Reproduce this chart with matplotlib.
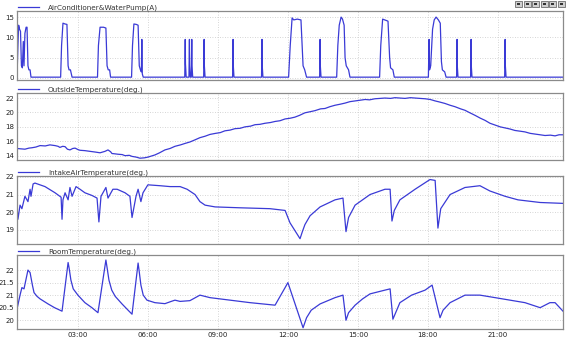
import matplotlib
matplotlib.use("Agg")
import matplotlib.pyplot as plt
from matplotlib.patches import Rectangle

# ---- AC + water pump current (A) ----
ac_t = [0.39, 0.43, 0.46, 0.50, 0.54, 0.58, 0.62, 0.66, 0.69, 0.73, 0.78, 0.82, 0.86, 0.90, 0.95, 0.99,
        2.26, 2.30, 2.36, 2.45, 2.53, 2.58, 2.62, 2.68, 2.75,
        3.84, 3.88, 3.95, 4.10, 4.20, 4.25, 4.30, 4.36, 4.40,
        5.30, 5.34, 5.40, 5.50, 5.58, 5.63, 5.68, 5.72, 5.74, 5.76, 5.80,
        7.58, 7.60, 7.61, 7.64, 7.76, 7.78, 7.79, 7.82, 7.86, 7.88, 7.89, 7.92,
        8.39, 8.41, 8.42, 8.45, 9.63, 9.65, 9.66, 9.69, 10.87, 10.89, 10.90, 10.93,
        12.03, 12.10, 12.18, 12.25, 12.40, 12.56, 12.61, 12.65, 12.72, 12.80,
        13.36, 13.38, 13.39, 13.42,
        14.09, 14.14, 14.20, 14.28, 14.34, 14.41, 14.45, 14.50, 14.60, 14.66,
        15.93, 15.98, 16.06, 16.15, 16.29, 16.36, 16.40, 16.50, 16.56,
        18.02, 18.05, 18.07, 18.12, 18.20, 18.27, 18.35, 18.45, 18.53, 18.58, 18.62, 18.72, 18.78,
        19.23, 19.25, 19.26, 19.29, 19.83, 19.85, 19.86, 19.89, 21.29, 21.31, 21.32, 21.35,
        23.79]
ac_v = [0.0, 8.0, 13.0, 12.0, 11.5, 3.0, 2.5, 9.0, 3.0, 11.0, 12.5, 12.5, 3.0, 2.0, 2.0, 0.2,
        0.2, 8.0, 13.5, 13.3, 13.2, 3.0, 2.0, 2.0, 0.2,
        0.2, 8.0, 12.5, 12.5, 12.3, 3.0, 2.0, 2.0, 0.2,
        0.2, 8.0, 13.3, 13.2, 13.0, 3.0, 2.0, 1.5, 9.5, 1.0, 0.2,
        0.2, 9.5, 3.5, 0.2, 0.2, 9.5, 3.0, 0.2, 0.2, 9.5, 3.0, 0.2,
        0.2, 9.5, 3.0, 0.2, 0.2, 9.5, 3.0, 0.2, 0.2, 9.5, 3.0, 0.2,
        0.2, 8.0, 14.8, 14.3, 14.5, 14.3, 8.0, 3.0, 2.0, 0.2,
        0.2, 9.5, 3.0, 0.2,
        0.2, 8.0, 13.0, 15.0, 14.5, 13.0, 5.0, 3.0, 2.0, 0.2,
        0.2, 8.0, 14.5, 14.3, 14.0, 5.0, 2.5, 2.0, 0.2,
        0.2, 9.5, 2.0, 3.0, 12.0, 14.3, 15.0, 14.3, 13.5, 4.0, 2.0, 1.5, 0.2,
        0.2, 9.5, 3.0, 0.2, 0.2, 9.5, 3.0, 0.2, 0.2, 9.5, 3.0, 0.2,
        0.2]

# ---- outside temperature (deg.) ----
out_t = [0.39, 0.55, 0.73, 0.90, 1.03, 1.20, 1.38, 1.60, 1.80, 2.02, 2.15, 2.23, 2.35, 2.45, 2.55, 2.66,
         2.78, 2.88, 3.00, 3.09, 3.30, 3.52, 3.75, 3.95, 4.16, 4.29, 4.40, 4.46, 4.60,
         4.72, 4.90, 5.02, 5.20, 5.32, 5.50, 5.66, 5.85, 6.00, 6.15, 6.30, 6.50, 6.73, 6.95, 7.16,
         7.40, 7.59, 7.80, 8.02, 8.23, 8.45, 8.66, 8.90, 9.10, 9.30, 9.52, 9.73, 9.95, 10.16,
         10.40, 10.59, 10.80, 11.02, 11.25, 11.45, 11.66, 11.88, 12.10, 12.30, 12.50, 12.73, 12.95,
         13.16, 13.40, 13.59, 13.80, 14.02, 14.25, 14.45, 14.66, 14.88, 15.10, 15.31, 15.50, 15.73,
         15.95, 16.16, 16.40, 16.59, 16.80, 17.02, 17.25, 17.45, 17.66, 17.88, 18.10, 18.31, 18.50,
         18.73, 18.95, 19.16, 19.40, 19.59, 19.80, 20.02, 20.25, 20.45, 20.66, 20.88, 21.10, 21.31,
         21.52, 21.73, 21.95, 22.16, 22.38, 22.59, 22.81, 23.02, 23.25, 23.45, 23.62, 23.79]
out_v = [15.0, 14.95, 14.9, 15.05, 15.1, 15.2, 15.4, 15.35, 15.5, 15.4, 15.3, 15.15, 15.3, 15.25, 14.9, 14.8,
         15.0, 15.05, 14.85, 14.75, 14.7, 14.6, 14.5, 14.4, 14.6, 14.8, 14.55, 14.3, 14.25,
         14.2, 14.15, 14.0, 14.05, 13.9, 13.8, 13.65, 13.7, 13.8, 13.95, 14.1, 14.4, 14.8, 15.0, 15.3,
         15.5, 15.7, 15.9, 16.2, 16.5, 16.7, 16.95, 17.1, 17.2, 17.45, 17.55, 17.75, 17.8, 18.0,
         18.1, 18.3, 18.35, 18.5, 18.6, 18.75, 18.85, 19.1, 19.2, 19.35, 19.6, 19.95, 20.1,
         20.25, 20.5, 20.55, 20.8, 21.0, 21.15, 21.3, 21.5, 21.6, 21.7, 21.8, 21.75, 21.9,
         21.95, 22.0, 21.95, 22.05, 22.0, 21.95, 22.05, 22.0, 21.95, 21.9, 21.8, 21.6, 21.45,
         21.25, 21.0, 20.8, 20.5, 20.3, 19.95, 19.6, 19.2, 18.9, 18.5, 18.25, 18.0, 17.85,
         17.7, 17.5, 17.4, 17.3, 17.1, 17.0, 16.9, 16.8, 16.85, 16.75, 16.9, 16.9]

# ---- intake air temperature (deg.) ----
intake_t = [0.39, 0.43, 0.52, 0.60, 0.73, 0.86, 0.95, 0.99, 1.08, 1.16, 1.59, 2.02, 2.28, 2.32, 2.36,
            2.45, 2.58, 2.66, 2.75, 2.92, 3.09, 3.30, 3.60, 3.82, 3.90, 3.99, 4.20, 4.29, 4.50, 4.68,
            5.02, 5.23, 5.32, 5.49, 5.58, 5.70, 5.79, 6.00, 6.52, 6.95, 7.38, 7.68, 8.02, 8.23, 8.45,
            8.88, 9.95, 11.23, 11.88, 12.09, 12.52, 12.62, 12.73, 12.95, 13.38, 14.02, 14.36, 14.49,
            14.60, 14.88, 15.52, 16.16, 16.38, 16.46, 16.56, 16.80, 17.45, 18.09, 18.31, 18.43,
            18.55, 18.95, 19.59, 20.23, 20.66, 21.31, 21.86, 22.81, 23.79]
intake_v = [20.4, 19.6, 20.4, 20.2, 20.9, 20.6, 21.3, 20.9, 21.6, 21.65, 21.45, 21.1, 20.85, 19.6, 20.7,
            21.1, 20.7, 21.4, 20.9, 21.45, 21.3, 21.1, 20.95, 20.8, 19.45, 20.9, 21.4, 20.8, 21.3, 21.3,
            21.1, 20.9, 19.7, 20.9, 21.3, 20.6, 21.1, 21.55, 21.5, 21.45, 21.45, 21.3, 21.0, 20.6, 20.4,
            20.3, 20.25, 20.2, 20.1, 19.4, 18.5, 18.9, 19.3, 19.8, 20.3, 20.7, 20.8, 18.9,
            19.7, 20.4, 21.0, 21.3, 21.3, 19.5, 20.1, 20.7, 21.3, 21.85, 21.8, 19.1,
            20.2, 21.0, 21.4, 21.5, 21.2, 20.9, 20.7, 20.55, 20.5]

# ---- room temperature (deg.) ----
room_t = [0.39, 0.52, 0.60, 0.69, 0.86, 0.95, 1.05, 1.12, 1.25, 1.38, 1.72, 2.00, 2.23, 2.32,
          2.58, 2.62, 2.70, 2.80, 3.00, 3.30, 3.60, 3.86,
          4.20, 4.25, 4.33, 4.45, 4.60, 4.89, 5.15, 5.32,
          5.58, 5.62, 5.70, 5.80, 5.96, 6.30, 6.73, 7.00, 7.16, 7.38,
          7.80, 8.23, 8.66, 9.52, 10.38, 11.45, 11.88, 12.00, 12.65, 12.80, 13.00, 13.38, 14.02, 14.36,
          14.49, 14.60, 14.88, 15.20, 15.52, 16.16, 16.38, 16.50, 16.80, 17.30, 17.88, 18.18, 18.52,
          18.65, 18.95, 19.59, 20.23, 20.88, 21.52, 22.16, 22.81, 23.23, 23.45, 23.79]
room_v = [20.44, 21.0, 21.3, 21.25, 22.0, 21.9, 21.4, 21.1, 20.95, 20.85, 20.65, 20.5, 20.4, 20.36,
          22.3, 22.1, 21.6, 21.25, 21.0, 20.7, 20.5, 20.3,
          22.4, 22.1, 21.6, 21.2, 20.95, 20.65, 20.4, 20.24,
          22.28, 22.0, 21.4, 21.0, 20.8, 20.7, 20.66, 20.75, 20.8, 20.75,
          20.78, 21.0, 20.9, 20.8, 20.7, 20.6, 21.3, 21.5, 19.7, 20.1, 20.4, 20.65, 20.9, 21.0,
          20.0, 20.3, 20.6, 20.85, 21.05, 21.2, 21.25, 20.04, 20.7, 21.0, 21.2, 21.4, 20.1,
          20.4, 20.7, 21.0, 21.0, 20.9, 20.8, 20.7, 20.5, 20.7, 20.7, 20.36]

x_ticks = [3, 6, 9, 12, 15, 18, 21]
x_labels = ["03:00", "06:00", "09:00", "12:00", "15:00", "18:00", "21:00"]

panels = [
    (ac_t, ac_v, "AirConditioner&WaterPump(A)", [0, 5, 10, 15], ["0", "5", "10", "15"], (-0.5, 16.5)),
    (out_t, out_v, "OutsideTemperature(deg.)", [14, 16, 18, 20, 22], ["14", "16", "18", "20", "22"], (13.4, 22.7)),
    (intake_t, intake_v, "IntakeAirTemperature(deg.)", [19, 20, 21, 22], ["19", "20", "21", "22"], (18.2, 22.05)),
    (room_t, room_v, "RoomTemperature(deg.)", [20, 20.5, 21, 21.5, 22], ["20", "20.5", "21", "21.5", "22"], (19.65, 22.6)),
]

W, H = 568, 341
fig = plt.figure(figsize=(W / 100, H / 100), dpi=100)
fig.patch.set_facecolor("white")

# axes boxes in pixels: (top, bottom)
boxes = [(11, 80), (93, 160), (176, 244), (255, 329)]
left_px, right_px = 17, 563
line_color = "#3a3ad6"

for i, ((t, v, label, yt, ytl, ylim), (top, bot)) in enumerate(zip(panels, boxes)):
    ax = fig.add_axes([left_px / W, (H - bot) / H, (right_px - left_px) / W, (bot - top) / H])
    ax.plot(t, v, color=line_color, lw=0.9, label=label)
    ax.set_xlim(0.39, 23.79)
    ax.set_ylim(*ylim)
    ax.set_yticks(yt)
    ax.set_yticklabels(ytl)
    ax.set_xticks(x_ticks)
    if i == 3:
        ax.set_xticklabels(x_labels)
    else:
        ax.set_xticklabels([])
    ax.tick_params(length=0, labelsize=5, pad=2, colors="#222222")
    ax.grid(True, color="#c8c8c8", lw=0.6, ls=(0, (1, 2)))
    for s in ax.spines.values():
        s.set_color("#8a8a8a")
        s.set_linewidth(0.9)
    leg = ax.legend(loc="lower left", bbox_to_anchor=(0.0, 0.985), frameon=False, fontsize=5.2,
                    handlelength=3.0, handletextpad=1.2, borderaxespad=0, borderpad=0.1)
    for txt in leg.get_texts():
        txt.set_color("#333333")

# small toolbar buttons in the top-right corner
for k in range(6):
    x0 = 515 + k * 8.6
    fig.patches.append(Rectangle((x0 / W, (H - 7) / H), 7 / W, 6 / H, transform=fig.transFigure,
                                 facecolor="#d0d0d0", edgecolor="#555555", lw=0.5))
    fig.patches.append(Rectangle(((x0 + 2) / W, (H - 5) / H), 3 / W, 2 / H, transform=fig.transFigure,
                                 facecolor="#333333", edgecolor="none"))

fig.savefig("out.png", dpi=100)
